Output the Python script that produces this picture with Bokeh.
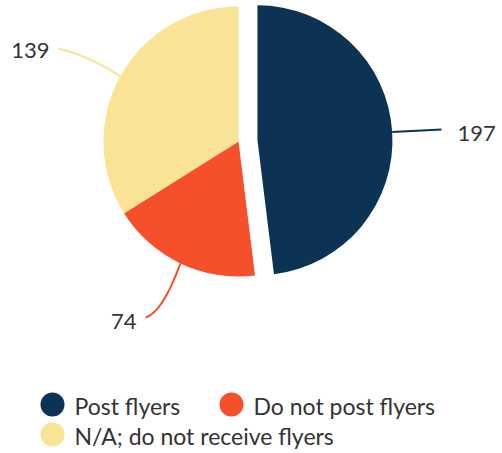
import math
from bokeh.plotting import figure
from bokeh.models import Range1d
from bokeh.core.properties import value
from bokeh.embed import file_html
from bokeh.resources import INLINE

# ---- data ----
categories = ["Post flyers", "Do not post flyers", "N/A; do not receive flyers"]
counts = [197, 74, 139]
colors = ["#0c3354", "#f54f2c", "#f8e494"]

# ---- layout constants (pixels, y measured up from bottom) ----
W, H = 502, 453
CX, CY, R = 238, H - 141, 135
explode = [19, 0, 0]
font = value("Lato")
txt_color = "#333333"

p = figure(width=W, height=H, output_backend="svg", toolbar_location=None,
           x_range=Range1d(0, W), y_range=Range1d(0, H), min_border=0)
p.axis.visible = False
p.grid.visible = False
p.outline_line_color = None
p.background_fill_color = "white"
p.border_fill_color = "white"

total = sum(counts)
cum = 0
anchors = []
for i, (c, col) in enumerate(zip(counts, colors)):
    s = cum / total * 2 * math.pi
    e = (cum + c) / total * 2 * math.pi
    cum += c
    m = (s + e) / 2
    cx = CX + explode[i] * math.sin(m)
    cy = CY + explode[i] * math.cos(m)
    p.wedge(x=[cx], y=[cy], radius=R, start_angle=[math.pi / 2 - s],
            end_angle=[math.pi / 2 - e], direction="clock",
            fill_color=col, line_color=None)
    anchors.append((cx + R * math.sin(m), cy + R * math.cos(m)))

# leader lines (end point, control point) and label placement
leader_ends = [(441, H - 129), (145, H - 317), (58, H - 48)]
leader_ctrl = [None, (162, H - 312), (88, H - 55)]
label_pos = [(457, H - 133, "left"), (136, H - 321, "right"), (49, H - 50, "right")]

for i in range(3):
    ax, ay = anchors[i]
    ex, ey = leader_ends[i]
    ctrl = leader_ctrl[i]
    if ctrl is None:
        ctrl = ((ax + ex) / 2, (ay + ey) / 2)
    p.quadratic(x0=[ax], y0=[ay], x1=[ex], y1=[ey], cx=[ctrl[0]], cy=[ctrl[1]],
                line_color=colors[i], line_width=2)
    lx, ly, al = label_pos[i]
    p.text(x=[lx], y=[ly], text=[str(counts[i])], text_font=font,
           text_font_size="22px", text_color=txt_color,
           text_align=al, text_baseline="middle")

# legend (manual)
legend_slots = [(52, H - 404), (231, H - 404), (52, H - 434)]
for i, cat in enumerate(categories):
    lx, ly = legend_slots[i]
    p.scatter(x=[lx], y=[ly], size=24, marker="circle",
              fill_color=colors[i], line_color=None)
    p.text(x=[lx + 22], y=[ly - 1], text=[cat], text_font=font,
           text_font_size="23px", text_color=txt_color,
           text_align="left", text_baseline="middle")

open("out.html", "w").write(file_html(p, INLINE))
